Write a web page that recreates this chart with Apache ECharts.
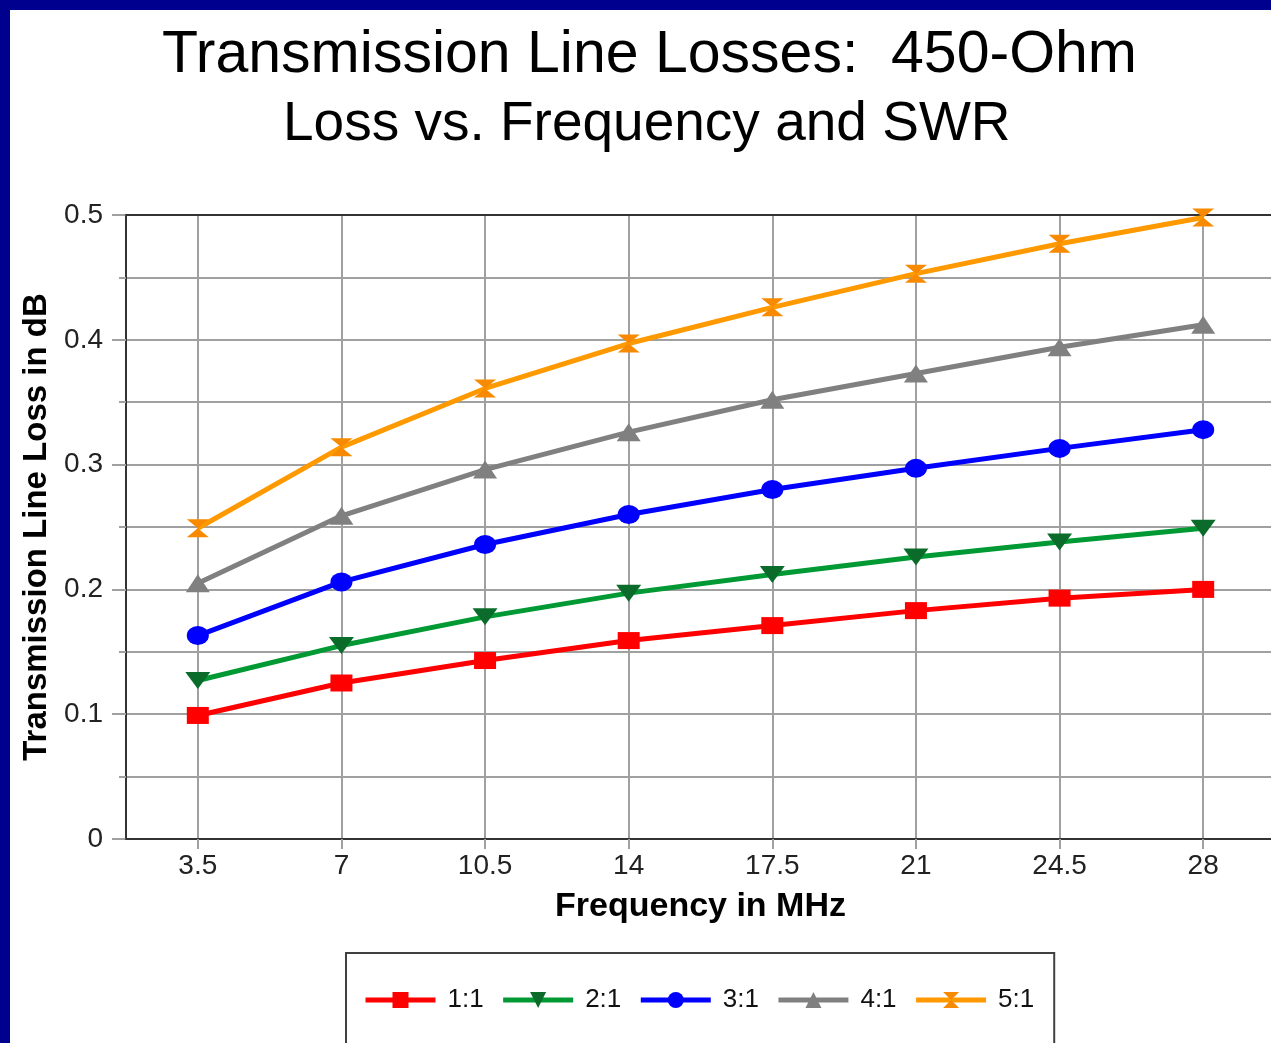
<!DOCTYPE html>
<html>
<head>
<meta charset="utf-8">
<title>Transmission Line Losses: 450-Ohm</title>
<script src="https://cdn.jsdelivr.net/npm/echarts@6/dist/echarts.min.js"></script>
<style>
  html, body { margin: 0; padding: 0; width: 1271px; height: 1043px; background: #00008e; overflow: hidden; }
  #chart { position: absolute; left: 10px; top: 10px; width: 1261px; height: 1033px; background: #ffffff; }
</style>
</head>
<body>
<div id="chart"></div>
<script>
// Frequencies (MHz) along the horizontal axis
const frequencies = ['3.5', '7', '10.5', '14', '17.5', '21', '24.5', '28'];

// Loss in dB for each SWR value
const loss1to1 = [0.099, 0.125, 0.143, 0.159, 0.171, 0.183, 0.193, 0.200];
const loss2to1 = [0.127, 0.155, 0.178, 0.197, 0.212, 0.226, 0.238, 0.249];
const loss3to1 = [0.163, 0.206, 0.236, 0.260, 0.280, 0.297, 0.313, 0.328];
const loss4to1 = [0.205, 0.259, 0.296, 0.326, 0.352, 0.373, 0.394, 0.412];
const loss5to1 = [0.249, 0.314, 0.361, 0.397, 0.426, 0.453, 0.477, 0.498];

const swrNames = ['1:1', '2:1', '3:1', '4:1', '5:1'];

const FONT = '"Liberation Sans", Arial, sans-serif';
const GRID_GRAY = '#a0a0a0';
const AXIS_DARK = '#333333';

// hourglass marker for the 5:1 curve
const hourglass = 'path://M0,0 L10,0 L5,5 L10,10 L0,10 L5,5 Z';

function lineSeries(name, data, color, symbol, size, markerColor, rotate) {
  return {
    name: name,
    type: 'line',
    data: data,
    z: 3,
    symbol: symbol,
    symbolSize: size,
    symbolRotate: rotate || 0,
    showAllSymbol: true,
    lineStyle: { color: color, width: 5 },
    itemStyle: { color: markerColor || color, borderWidth: 0 },
    emphasis: { disabled: true },
    animation: false
  };
}

const chart = echarts.init(document.getElementById('chart'), null, { renderer: 'canvas' });

chart.setOption({
  backgroundColor: '#ffffff',
  animation: false,
  title: [
    {
      text: 'Transmission Line Losses:  450-Ohm',
      left: 152,
      top: 16,
      padding: 0,
      textStyle: { fontFamily: FONT, fontSize: 59, fontWeight: 'normal', color: '#000000' }
    },
    {
      text: 'Loss vs. Frequency and SWR',
      left: 273,
      top: 87,
      padding: 0,
      textStyle: { fontFamily: FONT, fontSize: 55, fontWeight: 'normal', color: '#000000' }
    }
  ],
  grid: {
    left: 116,
    right: -4,
    top: 205,
    bottom: 204,
    outerBoundsMode: 'none',
    containLabel: false
  },
  legend: {
    data: swrNames,
    left: 336,
    top: 943,
    orient: 'horizontal',
    itemWidth: 70,
    itemHeight: 20,
    itemGap: 17,
    padding: [34, 20, 36, 17],
    borderColor: '#404040',
    borderWidth: 2,
    backgroundColor: '#ffffff',
    selectedMode: false,
    lineStyle: { width: 5 },
    textStyle: { fontFamily: FONT, fontSize: 26, color: '#111111', padding: [0, 0, 0, 7] }
  },
  xAxis: [
    {
      type: 'category',
      data: frequencies,
      boundaryGap: true,
      z: 1,
      name: 'Frequency in MHz',
      nameLocation: 'middle',
      nameGap: 51,
      nameTextStyle: { fontFamily: FONT, fontSize: 34, fontWeight: 'bold', color: '#000000' },
      axisLine: { show: true, lineStyle: { color: AXIS_DARK, width: 2 } },
      axisTick: { show: true, alignWithLabel: true, length: 10, lineStyle: { color: GRID_GRAY, width: 2 } },
      axisLabel: { fontFamily: FONT, fontSize: 28, color: '#222222', margin: 13 },
      splitLine: { show: true, alignWithLabel: true, lineStyle: { color: GRID_GRAY, width: 2 } }
    },
    {
      // plot frame along the top edge
      type: 'category',
      data: frequencies,
      position: 'top',
      z: 1.5,
      axisLine: { show: true, lineStyle: { color: AXIS_DARK, width: 2 } },
      axisTick: { show: false },
      axisLabel: { show: false },
      splitLine: { show: false }
    }
  ],
  yAxis: {
    type: 'value',
    min: 0,
    max: 0.5,
    interval: 0.1,
    z: 0,
    name: 'Transmission Line Loss in dB',
    nameLocation: 'middle',
    nameGap: 69,
    nameRotate: 90,
    nameTextStyle: { fontFamily: FONT, fontSize: 33, fontWeight: 'bold', color: '#000000' },
    axisLine: { show: true, lineStyle: { color: AXIS_DARK, width: 2 } },
    axisTick: { show: true, length: 14, lineStyle: { color: GRID_GRAY, width: 2 } },
    minorTick: { show: true, splitNumber: 2, length: 7, lineStyle: { color: GRID_GRAY, width: 2 } },
    axisLabel: { fontFamily: FONT, fontSize: 28, color: '#222222', margin: 23 },
    splitLine: { show: true, lineStyle: { color: GRID_GRAY, width: 2 } },
    minorSplitLine: { show: true, lineStyle: { color: GRID_GRAY, width: 2 } }
  },
  series: [
    lineSeries('1:1', loss1to1, '#ff0000', 'rect', [22, 17]),
    lineSeries('2:1', loss2to1, '#009933', 'triangle', [25, 17], '#0b6b2b', 180),
    lineSeries('3:1', loss3to1, '#0000ff', 'circle', [22, 19]),
    lineSeries('4:1', loss4to1, '#808080', 'triangle', [24, 18]),
    lineSeries('5:1', loss5to1, '#ff9900', hourglass, [22, 18], '#f78a00')
  ]
});
</script>
</body>
</html>
